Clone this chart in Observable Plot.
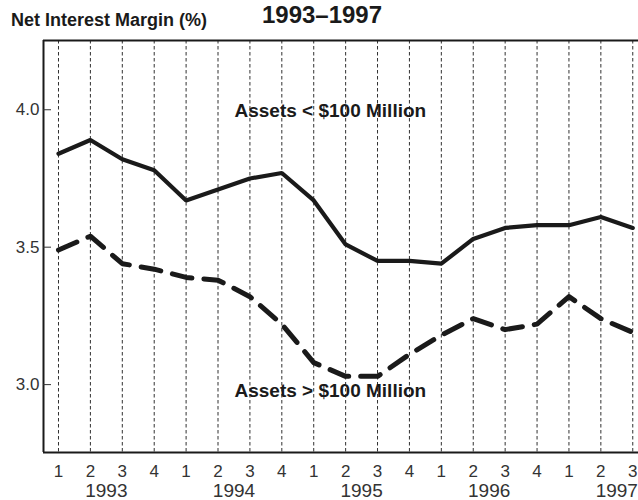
<!DOCTYPE html>
<html><head><meta charset="utf-8">
<script src="https://cdn.jsdelivr.net/npm/d3@7"></script>
<script src="https://cdn.jsdelivr.net/npm/@observablehq/plot@0.6"></script>
<style>body{margin:0;background:#fff}</style>
</head><body><div id="chart"></div>
<script>
// ---- data ----
const years = ["1993", "1994", "1995", "1996", "1997"];
const quarterLabels = ["1","2","3","4","1","2","3","4","1","2","3","4","1","2","3","4","1","2","3"];
const smallBanks = [3.84, 3.89, 3.82, 3.78, 3.67, 3.71, 3.75, 3.77, 3.67, 3.51, 3.45, 3.45, 3.44, 3.53, 3.57, 3.58, 3.58, 3.61, 3.57];
const largeBanks = [3.49, 3.54, 3.44, 3.42, 3.39, 3.38, 3.32, 3.22, 3.08, 3.03, 3.03, 3.11, 3.18, 3.24, 3.20, 3.22, 3.32, 3.24, 3.19];
const yTicks = [3.0, 3.5, 4.0];
const seriesLabels = ["Assets < $100 Million", "Assets > $100 Million"];
const title = "1993–1997";
const yLabel = "Net Interest Margin (%)";

// ---- derived tables ----
const idx = quarterLabels.map((_, i) => i);
const small = idx.map(i => ({i, v: smallBanks[i]}));
const large = idx.map(i => ({i, v: largeBanks[i]}));
const yearRows = years.map((y, k) => ({y, i: k * 4 + 1.5}));
const xDomain = [-0.47, 18.18];
const yDomain = [2.753, 4.252];
const ink = "#1a1a1a";
const font = "'Liberation Sans', Arial, Helvetica, sans-serif";

const chart = Plot.plot({
  width: 638,
  height: 500,
  marginTop: 40,
  marginBottom: 48,
  marginLeft: 43,
  marginRight: 0,
  style: {fontFamily: font, color: ink, background: "#fff"},
  x: {type: "linear", domain: xDomain, axis: null, label: null},
  y: {domain: yDomain, axis: null, label: null},
  marks: [
    // vertical dashed grid
    Plot.ruleX(idx, {x: d => d, stroke: ink, strokeWidth: 0.9, strokeDasharray: "3.5,2.5"}),
    // frame lines
    Plot.ruleY([yDomain[1]], {stroke: ink, strokeWidth: 2}),
    Plot.ruleY([yDomain[0]], {stroke: ink, strokeWidth: 2}),
    Plot.ruleX([xDomain[0]], {stroke: ink, strokeWidth: 2}),
    // y axis: labels and inward ticks
    Plot.axisY({ticks: yTicks, tickFormat: d => d.toFixed(1), tickSize: 0, tickPadding: 4, fontSize: 17, stroke: null, fill: "#333", label: null}),
    Plot.axisY({ticks: yTicks, tickFormat: () => "", tickSize: -8, stroke: "#333", strokeWidth: 1, label: null}),
    // x axis: quarter labels
    Plot.axisX({ticks: idx, tickFormat: i => quarterLabels[i], tickSize: 0, tickPadding: 12, fontSize: 17, fill: "#333", label: null}),
    // year labels
    Plot.text(yearRows, {x: "i", text: "y", frameAnchor: "bottom", lineAnchor: "bottom", dy: 44, fontSize: 19, fill: "#333"}),
    // series
    Plot.line(small, {x: "i", y: "v", stroke: ink, strokeWidth: 4.2, strokeLinejoin: "miter"}),
    Plot.line(large, {x: "i", y: "v", stroke: ink, strokeWidth: 5, strokeDasharray: "20,12"}),
    // annotations
    Plot.text([seriesLabels[0]], {x: () => 8.52, y: () => 3.995, text: d => d, fontSize: 19, fontWeight: "bold", fill: ink, lineAnchor: "middle"}),
    Plot.text([seriesLabels[1]], {x: () => 8.52, y: () => 2.976, text: d => d, fontSize: 19, fontWeight: "bold", fill: ink, lineAnchor: "middle"}),
    // titles
    Plot.text([title], {frameAnchor: "top", text: d => d, lineAnchor: "bottom", dx: -19, dy: -18, fontSize: 24, fontWeight: "bold", fill: ink}),
    Plot.text([yLabel], {frameAnchor: "top-left", text: d => d, textAnchor: "start", lineAnchor: "bottom", dx: -32.5, dy: -15, fontSize: 18, fontWeight: "bold", fill: ink})
  ]
});
document.getElementById("chart").append(chart);
</script>
</body></html>
